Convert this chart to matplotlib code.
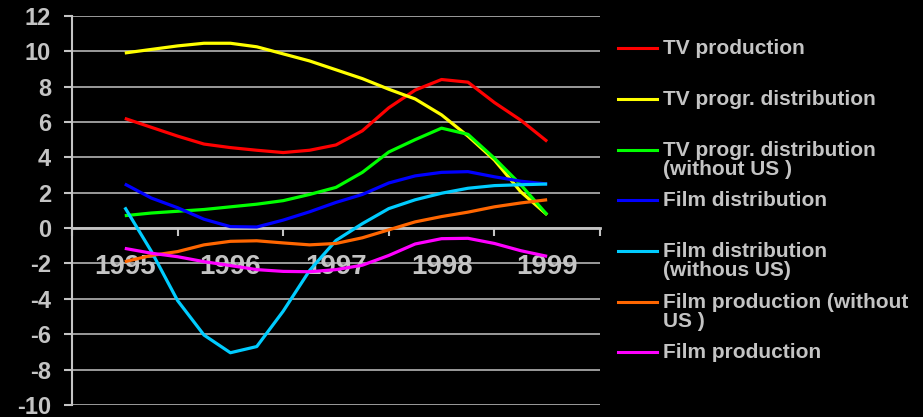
import numpy as np
import matplotlib.pyplot as plt
from matplotlib.lines import Line2D

plt.rcParams['font.family'] = ['Liberation Sans', 'DejaVu Sans']
plt.rcParams['font.weight'] = 'bold'
plt.rcParams['axes.unicode_minus'] = False

years = ['1995', '1996', '1997', '1998', '1999']

# quarterly readings, 1995 .. 1999
tv_production = [6.2, 5.7, 5.2, 4.75, 4.55, 4.4, 4.27, 4.4, 4.7, 5.5, 6.8, 7.8, 8.4, 8.25, 7.1, 6.1, 4.9]
tv_distribution = [9.9, 10.1, 10.3, 10.45, 10.45, 10.25, 9.85, 9.45, 8.95, 8.45, 7.85, 7.3, 6.4, 5.2, 3.85, 2.05, 0.75]
tv_distribution_nous = [0.7, 0.85, 0.95, 1.05, 1.2, 1.35, 1.55, 1.9, 2.3, 3.15, 4.3, 5.0, 5.65, 5.3, 3.95, 2.45, 0.75]
film_distribution = [2.49, 1.7, 1.15, 0.5, 0.08, 0.06, 0.45, 0.92, 1.45, 1.9, 2.55, 2.95, 3.15, 3.19, 2.9, 2.65, 2.49]
film_distribution_nous = [1.17, -1.3, -4.1, -6.05, -7.05, -6.7, -4.7, -2.4, -0.7, 0.25, 1.1, 1.6, 1.97, 2.25, 2.4, 2.45, 2.49]
film_production_nous = [-1.9, -1.55, -1.33, -0.95, -0.75, -0.72, -0.84, -0.95, -0.87, -0.55, -0.1, 0.35, 0.65, 0.9, 1.2, 1.42, 1.6]
film_production = [-1.15, -1.42, -1.62, -1.9, -2.12, -2.35, -2.45, -2.47, -2.35, -2.1, -1.55, -0.9, -0.6, -0.58, -0.87, -1.28, -1.6]

series = [tv_production, tv_distribution, tv_distribution_nous, film_distribution,
          film_distribution_nous, film_production_nous, film_production]
labels = ['TV production', 'TV progr. distribution', 'TV progr. distribution\n(without US )',
          'Film distribution', 'Film distribution\n(withous US)', 'Film production (without\nUS )',
          'Film production']
colors = ['#ff0000', '#ffff00', '#00ff00', '#0000ff', '#00ccff', '#ff6600', '#ff00ff']

grey = '#c4c4c4'

fig = plt.figure(figsize=(9.23, 4.17), dpi=100, facecolor='black')
ax = fig.add_axes([0.078, 0.029, 0.572, 0.933])
ax.set_facecolor('black')

# category i spans [i, i+1], points sit from the first centre to the last
x = 0.5 + np.arange(len(tv_production)) * 0.25
for values, color in zip(series, colors):
    ax.plot(x, values, color=color, lw=2.3, zorder=3,
            solid_joinstyle='round', solid_capstyle='butt')

ax.set_xlim(0, len(years))
ax.set_ylim(-10, 12)
ax.set_yticks(np.arange(-10, 13, 2))
ax.yaxis.grid(True, color=grey, lw=1.1)
ax.set_axisbelow(True)

ax.set_xticks(np.arange(len(years) + 1))
ax.set_xticklabels([])
ax.set_xticks(np.arange(len(years)) + 0.5, minor=True)
ax.set_xticklabels(years, minor=True)

for side in ['top', 'right']:
    ax.spines[side].set_visible(False)
ax.spines['bottom'].set_position(('data', 0))
ax.spines['bottom'].set_color(grey)
ax.spines['bottom'].set_linewidth(2)
ax.spines['left'].set_color(grey)
ax.spines['left'].set_linewidth(1.5)

ax.tick_params(axis='y', colors=grey, labelsize=17, length=6, width=1.5, pad=9)
ax.tick_params(axis='x', which='major', colors=grey, length=6, width=1.5, direction='out')
ax.tick_params(axis='x', which='minor', colors=grey, labelsize=20, length=0, pad=19)
for lab in ax.get_yticklabels() + ax.get_xticklabels(minor=True):
    lab.set_fontweight('bold')

# legend on the right, first-line centres in pixels from the top
entry_y = [48, 99, 150, 200, 251, 302, 352]
W, H = 923, 417
for label, color, py in zip(labels, colors, entry_y):
    yf = 1 - py / H
    fig.add_artist(Line2D([618 / W, 657 / W], [yf, yf], color=color, lw=2.2))
    fig.text(663 / W, 1 - (py - 9) / H, label, color=grey, fontsize=15,
             fontweight='bold', va='top', ha='left', linespacing=1.0)

fig.savefig('out.png', dpi=100, facecolor='black')
